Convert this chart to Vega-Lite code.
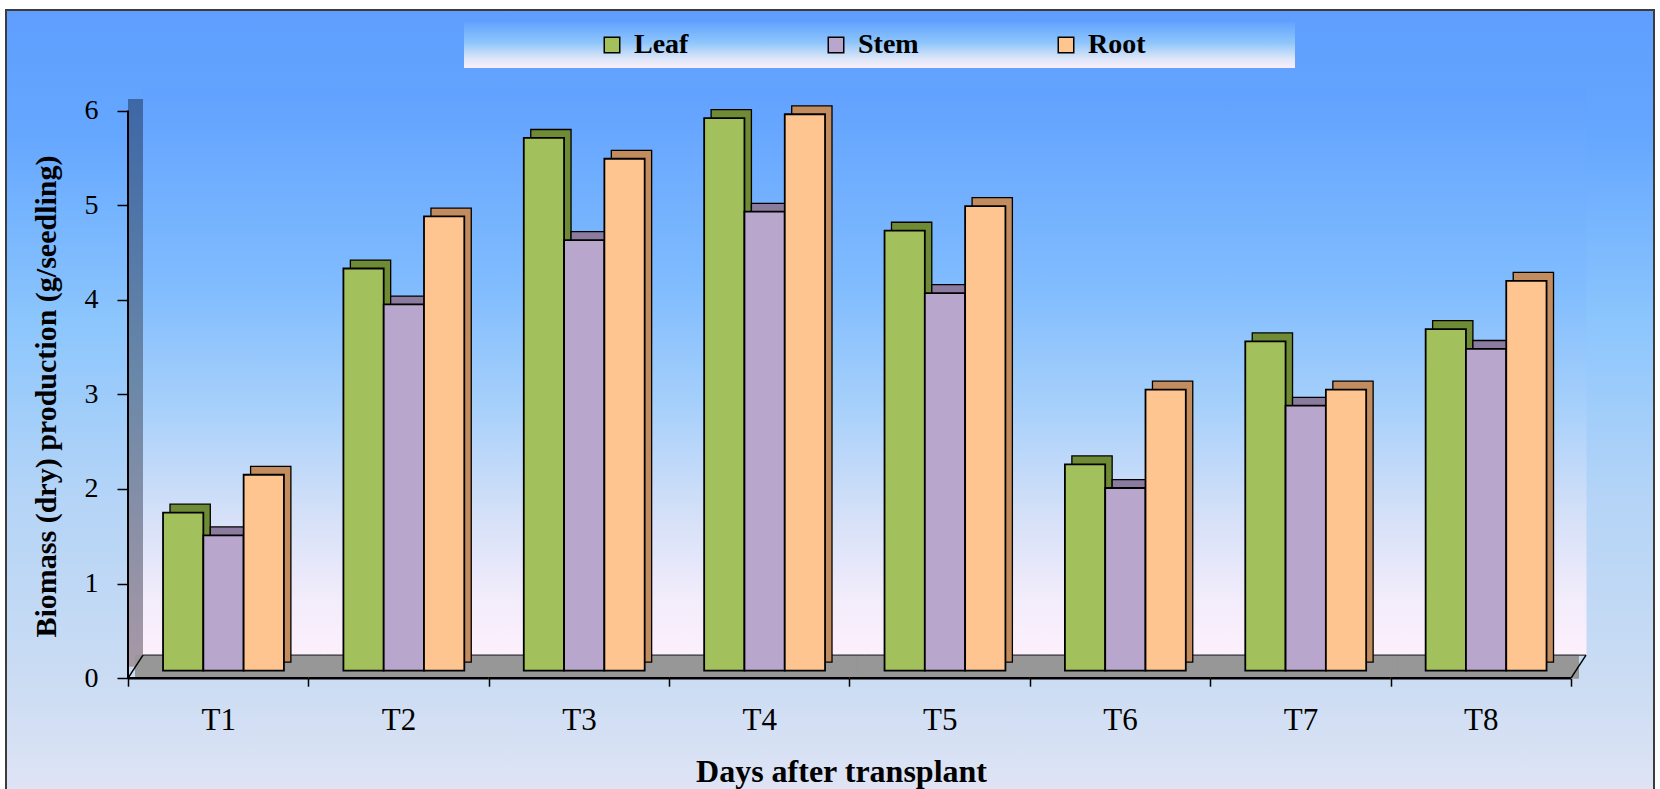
{
  "$schema": "https://vega.github.io/schema/vega-lite/v6.json",
  "width": 1648,
  "height": 781,
  "autosize": {"type": "none"},
  "padding": {"left": 6, "top": 10, "right": 6, "bottom": 0},
  "background": "white",
  "config": {
    "view": {
      "fill": {
        "gradient": "linear", "x1": 0, "y1": 0, "x2": 0, "y2": 1,
        "stops": [
          {"offset": 0, "color": "#5f9efe"},
          {"offset": 0.16, "color": "#65a7ff"},
          {"offset": 0.4, "color": "#8cc6fd"},
          {"offset": 0.62, "color": "#b4d4f7"},
          {"offset": 0.86, "color": "#cbdcf3"},
          {"offset": 1, "color": "#dfe4f5"}
        ]
      },
      "stroke": "#3c3c3c",
      "strokeWidth": 2
    },
    "axis": {"zindex": 1}
  },
  "data": {
    "values": [
      {"cat": "T1", "series": "Leaf", "value": 1.67},
      {"cat": "T1", "series": "Stem", "value": 1.43},
      {"cat": "T1", "series": "Root", "value": 2.07},
      {"cat": "T2", "series": "Leaf", "value": 4.25},
      {"cat": "T2", "series": "Stem", "value": 3.87},
      {"cat": "T2", "series": "Root", "value": 4.8},
      {"cat": "T3", "series": "Leaf", "value": 5.63},
      {"cat": "T3", "series": "Stem", "value": 4.55},
      {"cat": "T3", "series": "Root", "value": 5.41},
      {"cat": "T4", "series": "Leaf", "value": 5.84},
      {"cat": "T4", "series": "Stem", "value": 4.85},
      {"cat": "T4", "series": "Root", "value": 5.88},
      {"cat": "T5", "series": "Leaf", "value": 4.65},
      {"cat": "T5", "series": "Stem", "value": 3.99},
      {"cat": "T5", "series": "Root", "value": 4.91},
      {"cat": "T6", "series": "Leaf", "value": 2.18},
      {"cat": "T6", "series": "Stem", "value": 1.93},
      {"cat": "T6", "series": "Root", "value": 2.97},
      {"cat": "T7", "series": "Leaf", "value": 3.48},
      {"cat": "T7", "series": "Stem", "value": 2.8},
      {"cat": "T7", "series": "Root", "value": 2.97},
      {"cat": "T8", "series": "Leaf", "value": 3.61},
      {"cat": "T8", "series": "Stem", "value": 3.4},
      {"cat": "T8", "series": "Root", "value": 4.12}
    ]
  },
  "layer": [
    {
      "transform": [{"filter": "datum.series === 'Leaf'"}],
      "mark": {
        "type": "rect",
        "xOffset": 15, "x2Offset": 15, "yOffset": -23, "y2Offset": -23,
        "strokeWidth": 1,
        "fill": {
          "gradient": "linear", "x1": 0, "y1": 0, "x2": 0, "y2": 1,
          "stops": [
            {"offset": 0, "color": "#61a1ff"},
            {"offset": 0.35, "color": "#80bcfe"},
            {"offset": 0.55, "color": "#a4cffb"},
            {"offset": 0.75, "color": "#d4e0f8"},
            {"offset": 0.9, "color": "#f2ecfb"},
            {"offset": 1, "color": "#fdf0fd"}
          ]
        },
        "stroke": {
          "gradient": "linear", "x1": 0, "y1": 0, "x2": 0, "y2": 1,
          "stops": [
            {"offset": 0, "color": "#61a1ff"},
            {"offset": 0.35, "color": "#80bcfe"},
            {"offset": 0.55, "color": "#a4cffb"},
            {"offset": 0.75, "color": "#d4e0f8"},
            {"offset": 0.9, "color": "#f2ecfb"},
            {"offset": 1, "color": "#fdf0fd"}
          ]
        }
      },
      "encoding": {
        "x": {
          "field": "cat", "type": "nominal",
          "scale": {"paddingInner": 0, "paddingOuter": 0.5683, "align": 0.5951},
          "axis": {
            "title": "Days after transplant", "orient": "bottom", "offset": -112.8,
            "domain": false, "grid": false, "tickBand": "extent",
            "tickSize": 8, "tickColor": "black", "tickWidth": 1.5,
            "labelFont": "Liberation Serif", "labelFontSize": 31, "labelColor": "black",
            "labelPadding": 19, "labelAngle": 0,
            "titleFont": "Liberation Serif", "titleFontSize": 32, "titleFontWeight": "bold",
            "titleColor": "black", "titleX": 835, "titleY": 103, "titleBaseline": "alphabetic"
          }
        },
        "y": {
          "datum": 0, "type": "quantitative",
          "scale": {"domain": [-1.1921, 7.0622], "nice": false, "zero": false},
          "axis": {
            "title": "Biomass (dry) production (g/seedling)", "orient": "left", "offset": -122,
            "values": [0, 1, 2, 3, 4, 5, 6], "format": "d", "domain": false, "grid": false,
            "tickSize": 11, "tickColor": "black", "tickWidth": 1.5,
            "labelFont": "Liberation Serif", "labelFontSize": 28, "labelColor": "black",
            "labelPadding": 19,
            "titleFont": "Liberation Serif", "titleFontSize": 30, "titleFontWeight": "bold",
            "titleColor": "black", "titleX": -67, "titleY": 386
          }
        },
        "y2": {"datum": 6}
      }
    },
    {
      "transform": [{"filter": "datum.cat === 'T1' && datum.series === 'Leaf'"}],
      "mark": {
        "type": "rect",
        "x2Offset": 15, "yOffset": -11.5, "y2Offset": -11.5,
        "fill": {
          "gradient": "linear", "x1": 0, "y1": 0, "x2": 0, "y2": 1,
          "stops": [
            {"offset": 0, "color": "#3d67a6"},
            {"offset": 0.5, "color": "#6b88a8"},
            {"offset": 1, "color": "#a898a6"}
          ]
        }
      },
      "encoding": {
        "x": {"datum": "T1", "type": "nominal", "bandPosition": 0},
        "x2": {"datum": "T1", "bandPosition": 0},
        "y": {"datum": 0, "type": "quantitative"},
        "y2": {"datum": 6}
      }
    },
    {
      "transform": [{"filter": "datum.series === 'Leaf'"}],
      "mark": {"type": "rect", "fill": "#979797", "stroke": "#979797", "strokeWidth": 1, "xOffset": 7.5, "x2Offset": 7.5, "y2Offset": -23},
      "encoding": {
        "x": {"field": "cat", "type": "nominal"},
        "y": {"datum": 0, "type": "quantitative"},
        "y2": {"datum": 0}
      }
    },
    {
      "transform": [{"filter": "datum.series === 'Leaf'"}],
      "mark": {"type": "rect", "fill": null, "stroke": "#4a4a4a", "strokeWidth": 1, "xOffset": 15, "x2Offset": 15, "yOffset": -23, "y2Offset": -23},
      "encoding": {
        "x": {"field": "cat", "type": "nominal"},
        "y": {"datum": 0, "type": "quantitative"},
        "y2": {"datum": 0}
      }
    },
    {
      "transform": [{"filter": "datum.series === 'Leaf'"}],
      "mark": {"type": "rect", "fill": null, "stroke": "black", "strokeWidth": 2.5},
      "encoding": {
        "x": {"field": "cat", "type": "nominal"},
        "y": {"datum": 0, "type": "quantitative"},
        "y2": {"datum": 0}
      }
    },
    {
      "transform": [{"filter": "datum.cat === 'T1' && datum.series === 'Leaf'"}],
      "mark": {"type": "rule", "stroke": "black", "strokeWidth": 1.5, "x2Offset": 15, "y2Offset": -23},
      "encoding": {
        "x": {"datum": "T1", "type": "nominal", "bandPosition": 0},
        "x2": {"datum": "T1", "bandPosition": 0},
        "y": {"datum": 0, "type": "quantitative"},
        "y2": {"datum": 0}
      }
    },
    {
      "transform": [{"filter": "datum.cat === 'T1' && datum.series === 'Leaf'"}],
      "mark": {"type": "rule", "stroke": "black", "strokeWidth": 1.5, "x2Offset": 15, "y2Offset": -23},
      "encoding": {
        "x": {"datum": "T8", "type": "nominal", "bandPosition": 1},
        "x2": {"datum": "T8", "bandPosition": 1},
        "y": {"datum": 0, "type": "quantitative"},
        "y2": {"datum": 0}
      }
    },
    {
      "transform": [{"filter": "datum.cat === 'T1' && datum.series === 'Leaf'"}],
      "mark": {"type": "rule", "stroke": "black", "strokeWidth": 2},
      "encoding": {
        "x": {"datum": "T1", "type": "nominal", "bandPosition": 0},
        "y": {"datum": 0, "type": "quantitative"},
        "y2": {"datum": 6}
      }
    },
    {
      "mark": {"type": "bar", "stroke": "black", "strokeWidth": 1.3, "yOffset": -16, "y2Offset": -16},
      "encoding": {
        "x": {"field": "cat", "type": "nominal"},
        "xOffset": {"field": "series", "type": "nominal", "sort": ["Leaf", "Stem", "Root"],
          "scale": {"paddingInner": 0, "paddingOuter": 0.738, "align": 0.706}},
        "y": {"field": "value", "type": "quantitative"},
        "color": {"field": "series", "type": "nominal", "sort": ["Leaf", "Stem", "Root"],
          "scale": {"domain": ["Leaf", "Stem", "Root"], "range": ["#6f8b35", "#8b7b9e", "#c28c5e"]},
          "legend": null}
      }
    },
    {
      "mark": {"type": "bar", "stroke": "black", "strokeWidth": 1.8, "yOffset": -7.6, "y2Offset": -7.6},
      "encoding": {
        "x": {"field": "cat", "type": "nominal"},
        "xOffset": {"field": "series", "type": "nominal", "sort": ["Leaf", "Stem", "Root"],
          "scale": {"paddingInner": 0, "paddingOuter": 0.738, "align": 0.589}},
        "y": {"field": "value", "type": "quantitative"},
        "color": {
          "field": "series", "type": "nominal", "sort": ["Leaf", "Stem", "Root"],
          "scale": {"domain": ["Leaf", "Stem", "Root"], "range": ["#a2c05c", "#b8a6cc", "#ffc590"]},
          "legend": {
            "orient": "none", "legendX": 458, "legendY": 12, "direction": "horizontal",
            "title": " ", "titleOrient": "right", "titlePadding": 140, "titleFontSize": 28,
            "padding": 9,
            "fillColor": {"value": {
              "gradient": "linear", "x1": 0, "y1": 0, "x2": 0, "y2": 1,
              "stops": [
                {"offset": 0, "color": "#63a3ff"},
                {"offset": 0.45, "color": "#8ec6fb"},
                {"offset": 0.8, "color": "#dde6f8"},
                {"offset": 1, "color": "#fbeefb"}
              ]
            }},
            "symbolType": "square", "symbolSize": 240,
            "symbolStrokeColor": "black", "symbolStrokeWidth": 1.5,
            "symbolOffset": 125,
            "labelFont": "Liberation Serif", "labelFontSize": 28, "labelFontWeight": "bold",
            "labelColor": "black", "labelOffset": 8, "columnPadding": 8
          }
        }
      }
    }
  ],
  "resolve": {"scale": {"color": "independent", "xOffset": "independent"}}
}
